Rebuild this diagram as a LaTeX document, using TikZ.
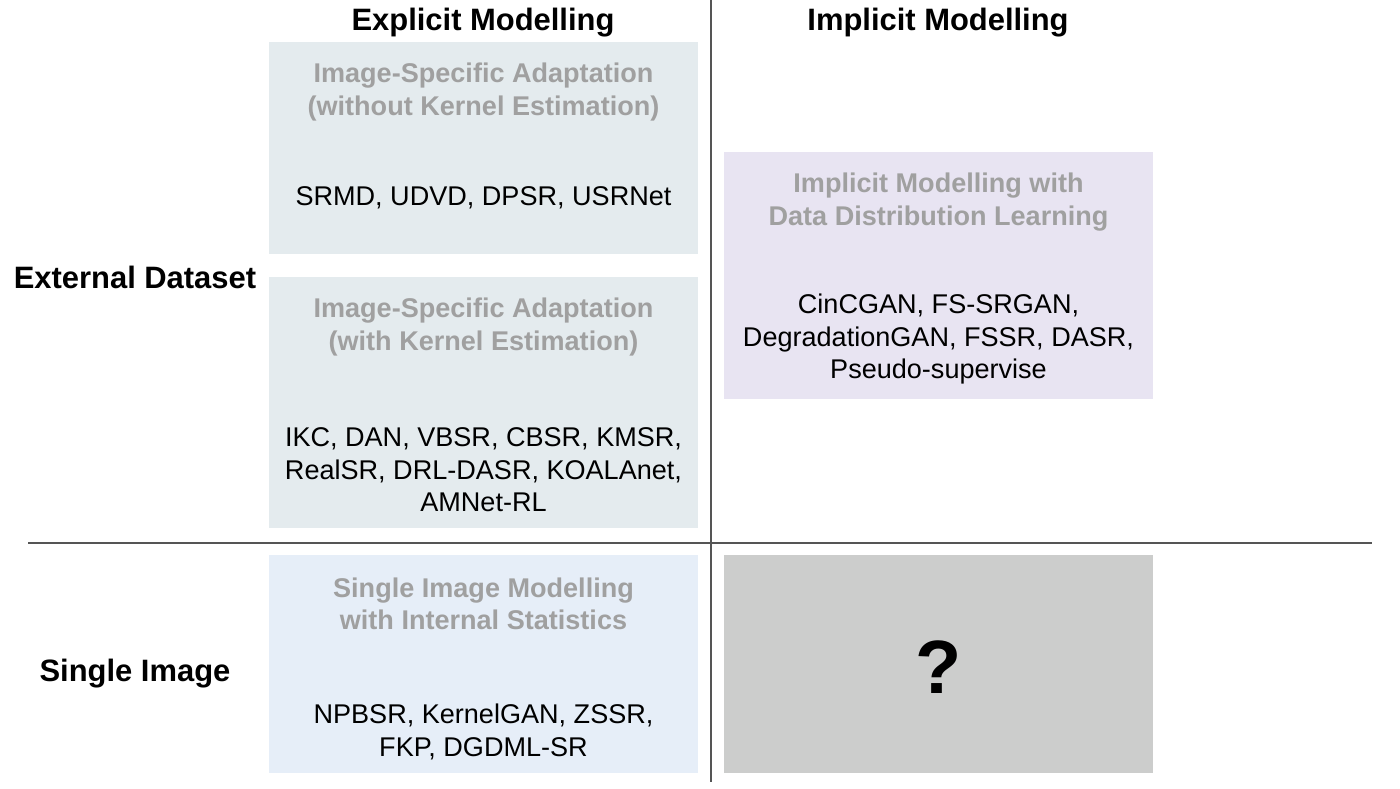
\documentclass[tikz,border=0pt]{standalone}
\usepackage{fontspec}
\setmainfont{Liberation Sans}
\usepackage{xcolor}
\usetikzlibrary{positioning}

\definecolor{explicitfill}{HTML}{E4EBEE}
\definecolor{implicitfill}{HTML}{E8E4F2}
\definecolor{singlefill}{HTML}{E6EEF8}
\definecolor{unknownfill}{HTML}{CCCDCC}
\definecolor{titlegray}{HTML}{A0A0A0}
\definecolor{divider}{HTML}{555555}

\begin{document}
\begin{tikzpicture}[
  cell/.style={minimum width=85.8mm, minimum height=#1, inner sep=0pt, outer sep=0pt},
  cell/.default=42.4mm,
  title/.style={font=\fontsize{15.4}{18.4}\selectfont\bfseries, text=titlegray, align=center, inner sep=0pt},
  items/.style={font=\fontsize{15.4}{18.4}\selectfont, align=center, inner sep=0pt},
  head/.style={font=\fontsize{17.6}{21}\selectfont\bfseries, inner sep=0pt},
  rule/.style={draw=divider, line width=0.45mm},
]
\useasboundingbox (0,0) rectangle (280mm,-157.6mm);

% === DIVIDERS ===
\coordinate (div_top) at (142.2mm,0);
\coordinate (div_bot) at (142.2mm,-156.4mm);
\coordinate (div_left) at (5.6mm,-108.6mm);
\coordinate (div_right) at (274.4mm,-108.6mm);
\draw[rule] (div_top) -- (div_bot);
\draw[rule] (div_left) -- (div_right);

% === HEADINGS ===
\node[head] (h_explicit) at (96.6mm,-4.6mm) {Explicit Modelling};
\node[head] (h_implicit) at (187.6mm,-4.6mm) {Implicit Modelling};
\node[head] (h_external) at (27mm,-55.4mm) {External Dataset};
\node[head] (h_single) at (27mm,-134.8mm) {Single Image};

% === EXPLICIT, EXTERNAL DATASET ===
\node[cell, fill=explicitfill, anchor=north west] (nokernel) at (53.8mm,-8.4mm) {};
\node[title] (nokernel_title) at ([yshift=-10mm]nokernel.north) {Image-Specific Adaptation\\(without Kernel Estimation)};
\node[items] (nokernel_items) at ([yshift=-31.2mm]nokernel.north) {SRMD, UDVD, DPSR, USRNet};

\node[cell=50.2mm, fill=explicitfill, below=4.6mm of nokernel] (kernel) {};
\node[title] (kernel_title) at ([yshift=-10mm]kernel.north) {Image-Specific Adaptation\\(with Kernel Estimation)};
\node[items] (kernel_items) at ([yshift=-38.6mm]kernel.north) {IKC, DAN, VBSR, CBSR, KMSR,\\RealSR, DRL-DASR, KOALAnet,\\AMNet-RL};

% === IMPLICIT, EXTERNAL DATASET ===
\node[cell=49.4mm, fill=implicitfill, anchor=north west] (distrib) at (144.8mm,-30.4mm) {};
\node[title] (distrib_title) at ([yshift=-10mm]distrib.north) {Implicit Modelling with\\Data Distribution Learning};
\node[items] (distrib_items) at ([yshift=-37.4mm]distrib.north) {CinCGAN, FS-SRGAN,\\DegradationGAN, FSSR, DASR,\\Pseudo-supervise};

% === SINGLE IMAGE ===
\node[cell=43.6mm, fill=singlefill, below=5.4mm of kernel] (internal) {};
\node[title] (internal_title) at ([yshift=-9.8mm]internal.north) {Single Image Modelling\\with Internal Statistics};
\node[items] (internal_items) at ([yshift=-35.4mm]internal.north) {NPBSR, KernelGAN, ZSSR,\\FKP, DGDML-SR};

\node[cell=43.6mm, fill=unknownfill, right=5.2mm of internal] (unknown) {};
\node[font=\fontsize{43}{43}\selectfont\bfseries, inner sep=0pt] (unknown_mark) at ([yshift=-0.6mm]unknown.center) {?};

\end{tikzpicture}
\end{document}
